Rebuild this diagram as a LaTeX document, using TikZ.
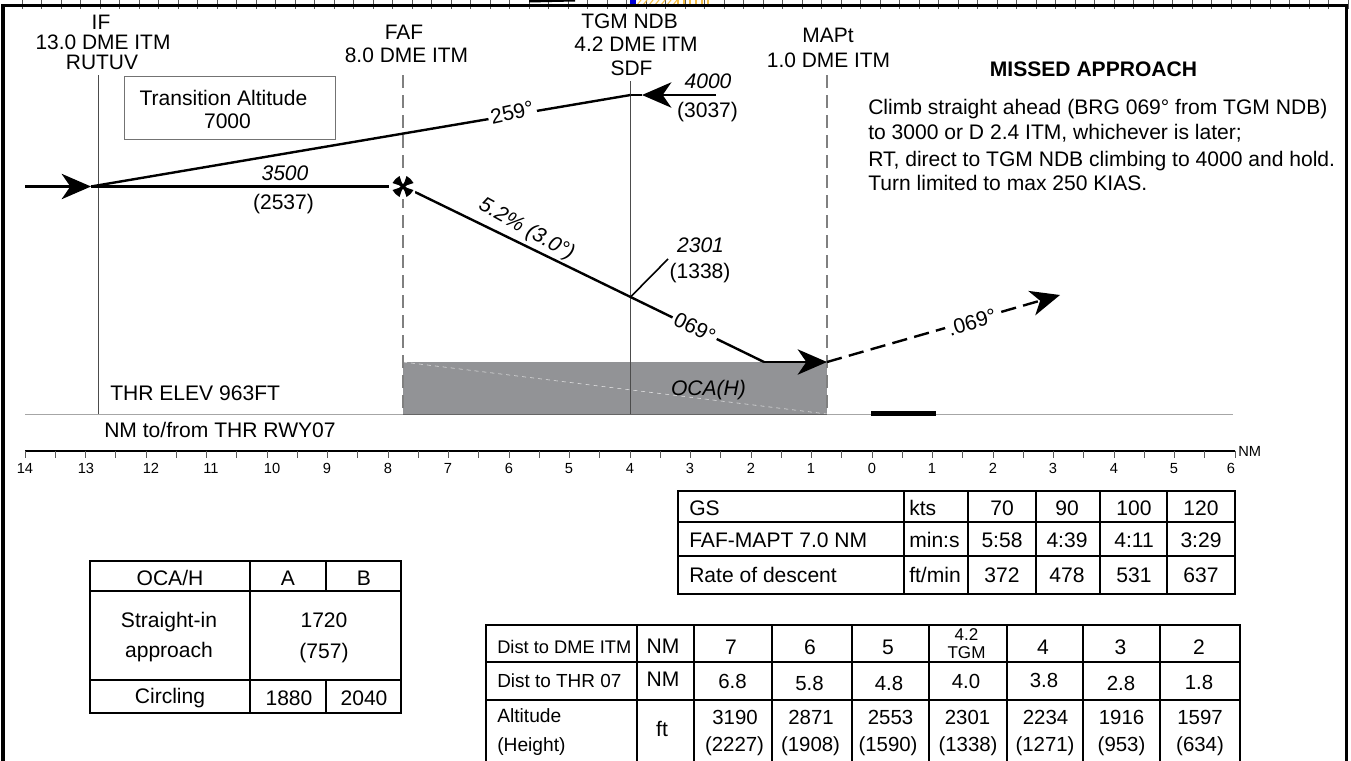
\documentclass[tikz,border=0pt]{standalone}
\usepackage{fontspec}
\setmainfont{Liberation Sans}
\usetikzlibrary{arrows.meta,calc}
\definecolor{ocagray}{RGB}{146,147,150}
\definecolor{hatch}{RGB}{245,190,70}
\newcommand{\fsA}{\fontsize{15.7}{16}\selectfont}
\newcommand{\fsB}{\fontsize{15.8}{16}\selectfont}
\newcommand{\fsC}{\fontsize{11}{12}\selectfont}
\newcommand{\fsD}{\fontsize{13.7}{14}\selectfont}
\newcommand{\fsE}{\fontsize{12.8}{13}\selectfont}
\newcommand{\fsF}{\fontsize{15.3}{16}\selectfont}
\tikzset{
 base/.style={inner sep=0pt,text=black,text height=11.3pt,text depth=0pt},
 lbl/.style={base,font=\fsA},
 txt/.style={base,font=\fsB,anchor=west},
 cell/.style={base,font=\fsB},
 num/.style={base,font=\fsF},
 alt/.style={base,font=\fsB\itshape},
 small/.style={inner sep=0pt,text=black,text height=9.8pt,text depth=0pt,font=\fsD,anchor=west},
 scalelbl/.style={inner sep=0pt,text=black,text height=8pt,text depth=0pt,font=\fsC},
 mask/.style={base,font=\fsB,inner sep=2pt,fill=white},
 track/.style={line width=1.8pt,black},
 guide/.style={line width=0.7pt,black!70},
 gdash/.style={line width=0.8pt,black!50,dash pattern=on 9.5pt off 5.5pt},
 tab/.style={line width=1.2pt,black},
 headx/.style={-{Stealth[length=22pt,width=19pt,inset=6.5pt]}},
}
\begin{document}
\begin{tikzpicture}[x=0.75pt,y=-0.75pt]
\useasboundingbox (0,0) rectangle (1351,760);
% top strip
\foreach \i in {0,...,68} \draw[line width=0.5pt,black!65] ({22+\i*19.5},0) -- ({22+\i*19.5},8.5);
\fill[black] (529,0) -- (575,0) -- (575,1.5) -- (529,2.5) -- cycle;
\fill[blue!85!black] (630,0) rectangle (636,4.5);
\foreach \i in {0,...,6} \draw[hatch,line width=0.8pt] ({637+\i*6},5) -- ({641+\i*6},0);
\foreach \i in {0,...,5} \draw[hatch,line width=0.8pt] ({678+\i*6},5) -- ({678+\i*6},0);
% frame
\draw[line width=2.6pt,black] (3,761) -- (3,5.5) -- (1346.5,5.5) -- (1346.5,761);
% terrain
\fill[ocagray] (403,362) rectangle (827,414);
\draw[white!75!ocagray,line width=0.4pt,dashed] (403,362) -- (827,414);
\draw[line width=0.7pt,black!35] (25,414) -- (1233,414);
\draw[line width=0.7pt,black!60] (403,414) -- (827,414);
\draw[line width=3.2pt,black] (871,413.5) -- (936,413.5);
% guides
\coordinate (ifT) at (98.5,75); \coordinate (ifB) at (98.5,414);
\coordinate (fafT) at (403,75); \coordinate (fafB) at (403,414);
\coordinate (tgmT) at (630.5,81); \coordinate (tgmB) at (630.5,414);
\coordinate (mapT) at (827,75); \coordinate (mapB) at (827,414);
\draw[guide] (ifT) -- (ifB);
\draw[guide] (tgmT) -- (tgmB);
\draw[gdash] (fafT) -- (fafB);
\draw[gdash] (mapT) -- (mapB);
% box
\node[draw=black!55,line width=0.7pt,minimum width=158.25pt,minimum height=47.25pt,inner sep=0pt] (ta) at (229.5,107.5) {};
\node[cell] (ta1) at (223.5,98) {Transition Altitude};
\node[cell] (ta2) at (227.5,121) {7000};
% profile
\coordinate (a0) at (25,186.5);
\coordinate (aif) at (91,186.5);
\coordinate (afaf) at (389,186.5);
\coordinate (atgm) at (630.5,95);
\coordinate (ahold) at (716,95);
\coordinate (ahtip) at (642,95);
\coordinate (afaf2) at (415,192);
\coordinate (asd) at (764,362);
\coordinate (amap) at (827,362);
\coordinate (ama) at (1060,295);
\draw[track,headx] (a0) -- (aif);
\draw[track] (aif) -- (afaf);
\draw[track] (aif) -- (atgm);
\draw[track] (ahtip) -- (atgm);
\draw[track,headx] (ahold) -- (ahtip);
\draw[track] (afaf2) -- (asd);
\draw[track,headx] (asd) -- (amap);
\draw[track,dash pattern=on 11.5pt off 5.5pt,headx] (amap) -- (ama);
\coordinate (a230) at (630.5,297);
\coordinate (a231) at (668,259);
\draw[line width=1.2pt,black] (a230) -- (a231);
% fix
\node[fill=white,inner sep=0pt,minimum size=18.5pt] (fix) at (403,186.5) {};
\foreach \sx/\sy in {1/1,1/-1,-1/1,-1/-1}
  \fill[black] ($(fix.center)+(0,0)$) -- ($(fix.center)+({10.5*\sx},{3.5*\sy})$) -- ($(fix.center)+({7.5*\sx},{7.5*\sy})$) -- ($(fix.center)+({3.5*\sx},{10.5*\sy})$) -- cycle;
\draw[line width=2.4pt,black] ($(fix.center)+(-6,-6)$) -- ($(fix.center)+(6,6)$);
\draw[line width=2.4pt,black] ($(fix.center)+(-6,6)$) -- ($(fix.center)+(6,-6)$);
% masked labels
\node[mask,rotate=12.5] (l259) at (512,112) {259°};
\node[base,rotate=-29,font=\fsB\itshape] (l52) at (527.5,228) {5.2\% (3.0°)};
\node[mask,rotate=-27] (l069a) at (695,327.5) {069°};
\node[mask,rotate=16] (l069b) at (972,322) {.069°};
% fix labels
\node[lbl] (n11) at (101,21.5) {IF};
\node[lbl] (n12) at (103,41.5) {13.0 DME ITM};
\node[lbl] (n13) at (102,61.5) {RUTUV};
\node[lbl] (n21) at (404,31.5) {FAF};
\node[lbl] (n22) at (406.5,55) {8.0 DME ITM};
\node[lbl] (n31) at (629.5,20.5) {TGM NDB};
\node[lbl] (n32) at (636,44) {4.2 DME ITM};
\node[lbl] (n33) at (631.5,67.5) {SDF};
\node[lbl] (n41) at (828,34.5) {MAPt};
\node[lbl] (n42) at (828.5,60) {1.0 DME ITM};
% altitudes
\node[alt] (alt1) at (285,172.5) {3500};
\node[cell] (alt1h) at (283.5,202) {(2537)};
\node[alt] (alt2) at (708,80.5) {4000};
\node[cell] (alt2h) at (707.5,109.5) {(3037)};
\node[alt] (alt3) at (700.5,245) {2301};
\node[cell] (alt3h) at (700,271) {(1338)};
\node[alt] (oca) at (708.5,388) {OCA(H)};
\node[txt] (thr) at (110,393) {THR ELEV 963FT};
\node[txt] (nmto) at (104,430) {NM to/from THR RWY07};
% missed approach
\node[base,font=\fsB\bfseries] (ma) at (1093.5,69) {MISSED APPROACH};
\node[txt] (m1) at (868,107) {Climb straight ahead (BRG 069° from TGM NDB)};
\node[txt] (m2) at (868,131.5) {to 3000 or D 2.4 ITM, whichever is later;};
\node[txt] (m3) at (868,158.5) {RT, direct to TGM NDB climbing to 4000 and hold.};
\node[txt] (m4) at (868,183) {Turn limited to max 250 KIAS.};
% scale
\coordinate (sL) at (25,450.5); \coordinate (sR) at (1235,450.5);
\draw[line width=1.5pt,black] (sL) -- (sR);
\foreach \i in {0,...,40}
  \draw[line width=0.6pt,black!65] ({25+\i*30.25},450.5) -- ({25+\i*30.25},457.5);
\foreach \x/\t in {25/14,86/13,151/12,211/11,272/10,327/9,388/8,448/7,509/6,569/5,630/4,690/3,751/2,811/1,872/0,932/1,993/2,1053/3,1114/4,1174/5,1231/6}
  \node[scalelbl] (s\x) at (\x,468.5) {\t};
\node[scalelbl,anchor=west] (nm) at (1238,451.5) {NM};
% table 1
\draw[tab] (678,491) rectangle (1235,594);
\foreach \y in {522,556} \draw[tab] (678,\y) -- (1235,\y);
\foreach \x in {904,968,1036,1100,1167} \draw[tab] (\x,491) -- (\x,594);
\node[txt] (t1a) at (689,508) {GS};
\node[txt] (t1b) at (689,540) {FAF-MAPT 7.0 NM};
\node[txt] (t1c) at (689,575) {Rate of descent};
\node[txt] (t1d) at (909,508) {kts};
\node[txt] (t1e) at (909,540) {min:s};
\node[txt] (t1f) at (909,575) {ft/min};
\foreach \x/\a/\b/\c in {1002/70/5:58/372,1067/90/4:39/478,1134/100/4:11/531,1201/120/3:29/637}{
  \node[cell] (ta\x) at (\x,508) {\a};
  \node[cell] (tb\x) at (\x,540) {\b};
  \node[cell] (tc\x) at (\x,575) {\c};
}
% table 2
\draw[tab] (90,561) rectangle (401,713);
\foreach \y in {591,680} \draw[tab] (90,\y) -- (401,\y);
\draw[tab] (250,561) -- (250,713);
\draw[tab] (326,561) -- (326,591);
\draw[tab] (326,680) -- (326,713);
\node[cell] (o1) at (170,578) {OCA/H};
\node[cell] (o2) at (288,578) {A};
\node[cell] (o3) at (364,578) {B};
\node[cell] (o4) at (169,620) {Straight-in};
\node[cell] (o5) at (169,650) {approach};
\node[cell] (o6) at (324,620) {1720};
\node[cell] (o7) at (324,651) {(757)};
\node[cell] (o8) at (170,696) {Circling};
\node[cell] (o9) at (289,698) {1880};
\node[cell] (o10) at (364,698) {2040};
% table 3
\draw[tab] (486,762) -- (486,625) -- (1240,625) -- (1240,762);
\foreach \y in {662,700} \draw[tab] (486,\y) -- (1240,\y);
\foreach \x in {637,694,772,852,929,1007,1083,1160} \draw[tab] (\x,625) -- (\x,762);
\node[small] (d1) at (497,646.5) {Dist to DME ITM};
\node[small,font=\fontsize{14.2}{15}\selectfont] (d2) at (497,681) {Dist to THR 07};
\node[small,font=\fontsize{14.4}{15}\selectfont] (d3) at (497,715.5) {Altitude};
\node[small,font=\fontsize{14.4}{15}\selectfont] (d4) at (497,745) {(Height)};
\node[cell] (d5) at (663,645.5) {NM};
\node[cell] (d6) at (663,678.5) {NM};
\node[cell] (d7) at (662,729) {ft};
\foreach \n/\xa/\a/\xb/\b/\by/\xc/\c/\xd/\d in {
  1/731/7/732.5/6.8/680.5/735/3190/734.5/(2227),
  2/810/6/809.5/5.8/683/811/2871/810.5/(1908),
  3/888/5/889/4.8/683/890.5/2553/888/(1590),
  4/1043/4/1044/3.8/679.5/1045.5/2234/1045/(1271),
  5/1120.5/3/1121/2.8/683/1121.5/1916/1121.5/(953),
  6/1199/2/1199/1.8/682/1200/1597/1200/(634)}{
  \node[cell] (ra\n) at (\xa,647) {\a};
  \node[num] (rb\n) at (\xb,\by) {\b};
  \node[num] (rc\n) at (\xc,717) {\c};
  \node[num] (rd\n) at (\xd,744) {\d};
}
\node[base,font=\fsE,text height=9.2pt] (g1) at (966.5,634) {4.2};
\node[base,font=\fsE,text height=9.2pt] (g2) at (966.5,652) {TGM};
\node[num] (g3) at (966,680.5) {4.0};
\node[num] (g4) at (967.5,717) {2301};
\node[num] (g5) at (968,744) {(1338)};
\end{tikzpicture}
\end{document}
